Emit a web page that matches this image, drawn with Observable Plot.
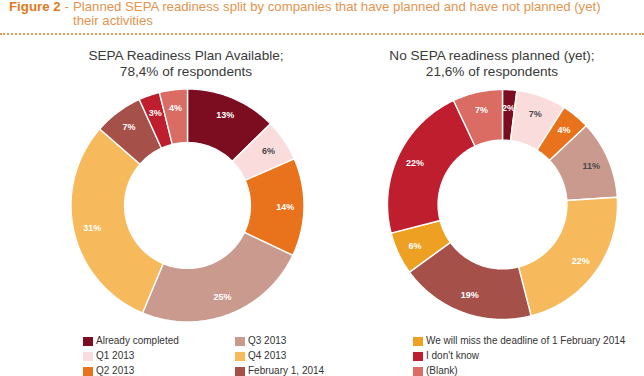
<!DOCTYPE html>
<html>
<head>
<meta charset="utf-8">
<script src="https://cdn.jsdelivr.net/npm/d3@7"></script>
<script src="https://cdn.jsdelivr.net/npm/@observablehq/plot@0.6"></script>
<style>
html, body { margin: 0; padding: 0; background: #fff; }
#root { position: relative; width: 644px; height: 376px; overflow: hidden; font-family: "Liberation Sans", Arial, Helvetica, sans-serif; }
.fig-label { position: absolute; left: 9px; top: 0; font-size: 13.3px; line-height: 14px; color: #E07A22; white-space: nowrap; }
.fig-label b { font-weight: bold; }
.fig-label span { color: #E3944F; }
.fig-text { position: absolute; left: 73px; top: 0; font-size: 13.2px; line-height: 14px; color: #E3944F; white-space: nowrap; }
.rule { position: absolute; left: 0; width: 644px; top: 33px; border-top: 2px dotted #E39A55; }
.ctitle { position: absolute; top: 48px; width: 300px; font-size: 13.6px; line-height: 16px; color: #3a3a3a; text-align: center; }
.chart { position: absolute; }
.lg-sw { position: absolute; width: 10px; height: 9px; }
.lg-tx { position: absolute; font-size: 10px; line-height: 12px; color: #333; white-space: nowrap; }
</style>
</head>
<body>
<div id="root">
  <div class="fig-label"><b>Figure 2</b><span> -</span></div>
  <div class="fig-text">Planned SEPA readiness split by companies that have planned and have not planned (yet)<br>their activities</div>
  <div class="rule"></div>
  <div class="ctitle" id="t1" style="left:36px">SEPA Readiness Plan Available;<br>78,4% of respondents</div>
  <div class="ctitle" id="t2" style="left:342px">No SEPA readiness planned (yet);<br>21,6% of respondents</div>
  <div class="chart" id="c1" style="left:56.5px; top:80px"></div>
  <div class="chart" id="c2" style="left:372px; top:79px"></div>
  <div id="legend"></div>
</div>
<script>
// ---- data ----
const categories = [
  "Already completed",
  "Q1 2013",
  "Q2 2013",
  "Q3 2013",
  "Q4 2013",
  "February 1, 2014",
  "We will miss the deadline of 1 February 2014",
  "I don't know",
  "(Blank)"
];
const planAvailable = [13, 6, 14, 25, 31, 7, 0, 3, 4];
const noPlan = [2, 7, 4, 11, 22, 19, 6, 22, 7];

// ---- styles ----
const palette = ["#7C0D21", "#FADCDC", "#E8731C", "#C99A8D", "#F6BA5D", "#A5514A", "#EDA022", "#BE1E2E", "#DA6C63"];
const FONT = "'Liberation Sans', Arial, Helvetica, sans-serif";

function donut(values, R, innerRatio, darkLabels) {
  const W = 260, H = 250;
  const rows = categories.map((c, i) => ({category: c, value: values[i]}));
  const arcs = d3.pie().sort(null).value(d => d.value)(rows);
  const pts = [];
  const labels = [];
  arcs.forEach(a => {
    if (a.data.value <= 0) return;
    const span = a.endAngle - a.startAngle;
    const n = Math.max(2, Math.ceil(span / 0.015));
    const ring = [];
    for (let k = 0; k <= n; k++) {
      const t = a.startAngle + span * k / n;
      ring.push([Math.sin(t), Math.cos(t)]);
    }
    for (let k = n; k >= 0; k--) {
      const t = a.startAngle + span * k / n;
      ring.push([innerRatio * Math.sin(t), innerRatio * Math.cos(t)]);
    }
    ring.push(ring[0]);
    ring.forEach(([x, y]) => pts.push({category: a.data.category, x, y}));
    const m = (a.startAngle + a.endAngle) / 2;
    const lr = 0.84;
    labels.push({category: a.data.category, value: a.data.value, x: lr * Math.sin(m), y: lr * Math.cos(m)});
  });
  return Plot.plot({
    width: W,
    height: H,
    margin: 0,
    style: {background: "transparent", fontFamily: FONT},
    x: {domain: [-W / 2 / R, W / 2 / R], axis: null},
    y: {domain: [-H / 2 / R, H / 2 / R], axis: null},
    color: {domain: categories, range: palette},
    marks: [
      Plot.line(pts, {x: "x", y: "y", z: "category", fill: "category", stroke: "white", strokeWidth: 1.4, curve: "linear"}),
      Plot.text(labels, {filter: d => !darkLabels.includes(d.category), x: "x", y: "y", text: d => d.value + "%", fill: "white", fontSize: 9, fontWeight: "bold", fontFamily: FONT}),
      Plot.text(labels, {filter: d => darkLabels.includes(d.category), x: "x", y: "y", text: d => d.value + "%", fill: "#4a4a4a", fontSize: 9, fontWeight: "bold", fontFamily: FONT})
    ]
  });
}

document.getElementById("c1").appendChild(donut(planAvailable, 116.5, 0.54, ["Q1 2013"]));
document.getElementById("c2").appendChild(donut(noPlan, 115, 0.56, ["Q1 2013", "Q3 2013"]));

// ---- legend ----
const legend = document.getElementById("legend");
const colX = [83, 235, 413];
const rowTop = 335, rowStep = 14.75;
categories.forEach((c, i) => {
  const col = Math.floor(i / 3), row = i % 3;
  const sw = document.createElement("div");
  sw.className = "lg-sw";
  sw.style.left = colX[col] + "px";
  sw.style.top = (rowTop + row * rowStep + 2) + "px";
  sw.style.background = palette[i];
  legend.appendChild(sw);
  const tx = document.createElement("div");
  tx.className = "lg-tx";
  tx.style.left = (colX[col] + 13) + "px";
  tx.style.top = (rowTop + row * rowStep) + "px";
  tx.textContent = c;
  legend.appendChild(tx);
});
</script>
</body>
</html>
